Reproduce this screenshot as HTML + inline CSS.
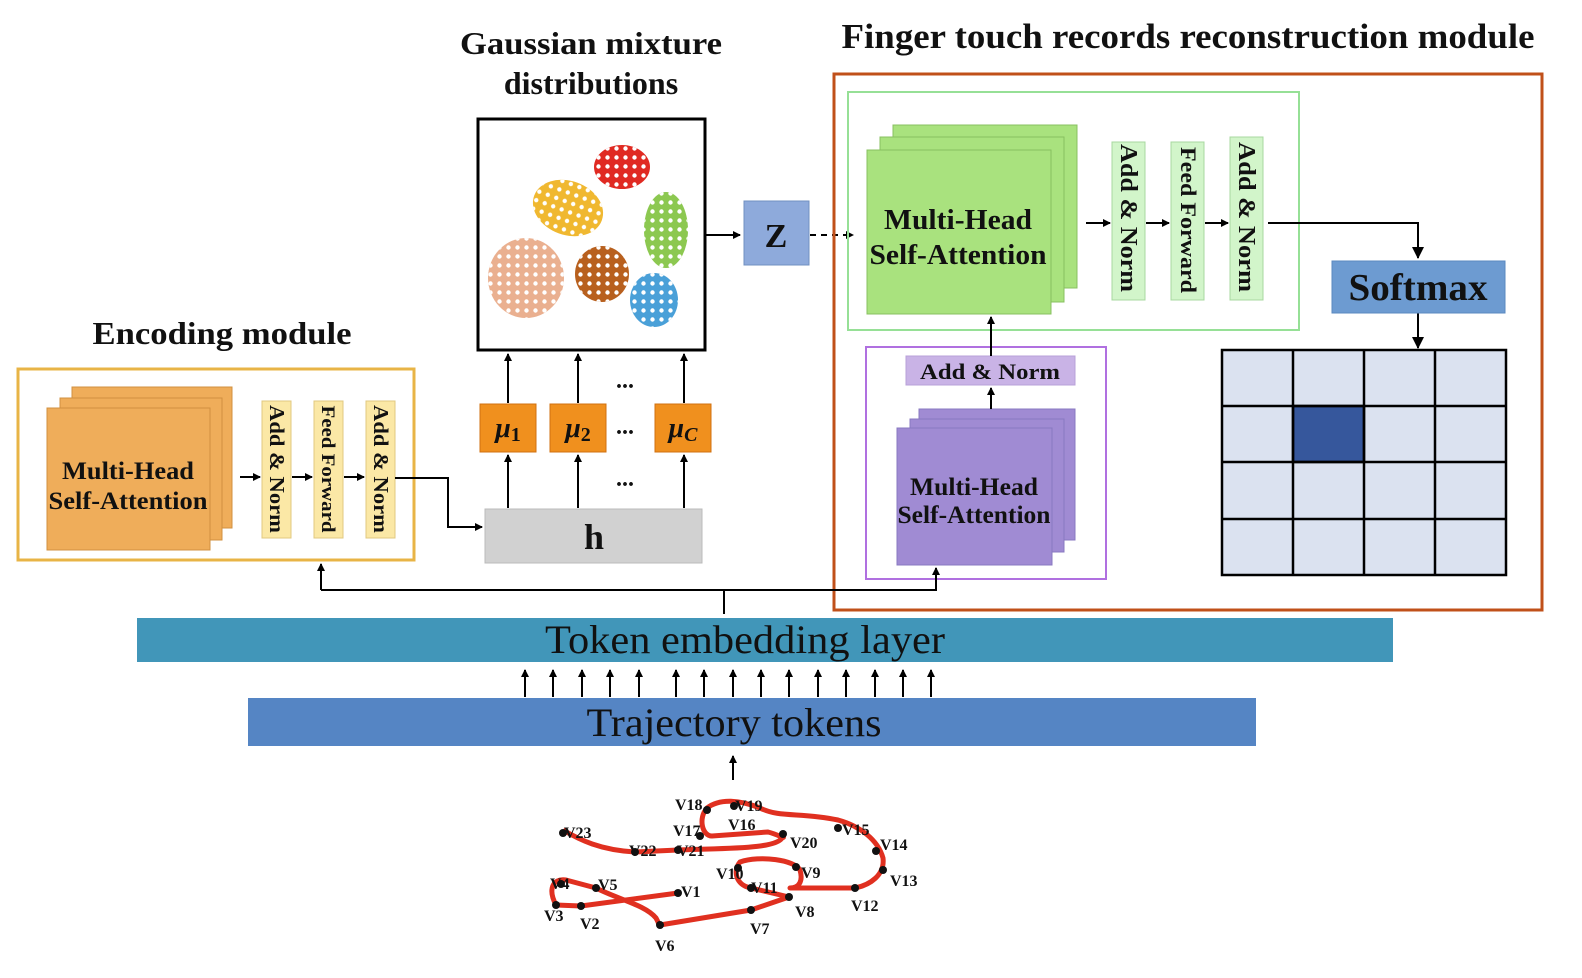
<!DOCTYPE html>
<html><head><meta charset="utf-8"><style>
html,body{margin:0;padding:0;background:#fff;overflow:hidden;}
svg{display:block;}
text{font-family:"Liberation Serif",serif;font-weight:bold;fill:#111;}
text.n{font-weight:normal;}
</style></head><body>
<svg width="1582" height="978" viewBox="0 0 1582 978" xmlns="http://www.w3.org/2000/svg">
<defs>
<marker id="a" markerWidth="8" markerHeight="8" refX="7" refY="4" orient="auto" markerUnits="userSpaceOnUse"><path d="M0,0 L8,4 L0,8 z" fill="#000"/></marker>
<marker id="b" markerWidth="12" markerHeight="12" refX="11" refY="6" orient="auto" markerUnits="userSpaceOnUse"><path d="M0,0 L12,6 L0,12 z" fill="#000"/></marker>
<pattern id="dots" width="9" height="9" patternUnits="userSpaceOnUse"><circle cx="4.5" cy="4.5" r="2.2" fill="#fff"/></pattern>
</defs>
<rect width="1582" height="978" fill="#fff"/>

<text x="591" y="54" font-size="32" text-anchor="middle" textLength="262" lengthAdjust="spacingAndGlyphs">Gaussian mixture</text>
<text x="591" y="94" font-size="32" text-anchor="middle">distributions</text>
<text x="1188" y="48" font-size="35" text-anchor="middle" textLength="693" lengthAdjust="spacingAndGlyphs">Finger touch records reconstruction module</text>
<text x="222" y="344" font-size="32" text-anchor="middle" textLength="259" lengthAdjust="spacingAndGlyphs">Encoding module</text>

<rect x="18" y="369" width="396" height="191" fill="none" stroke="#e8b446" stroke-width="3"/>
<rect x="72" y="387" width="160" height="141" fill="#efad5a" stroke="#d09040"/>
<rect x="60" y="398" width="162" height="142" fill="#efad5a" stroke="#d09040"/>
<rect x="47" y="408" width="163" height="142" fill="#efad5a" stroke="#d09040"/>
<text x="128" y="479" font-size="25" text-anchor="middle" textLength="132" lengthAdjust="spacingAndGlyphs">Multi-Head</text>
<text x="128" y="509" font-size="25" text-anchor="middle" textLength="159" lengthAdjust="spacingAndGlyphs">Self-Attention</text>
<rect x="262" y="401" width="29" height="137" fill="#fbe8a6" stroke="#e0c880"/>
<rect x="314" y="401" width="29" height="137" fill="#fbe8a6" stroke="#e0c880"/>
<rect x="366" y="401" width="29" height="137" fill="#fbe8a6" stroke="#e0c880"/>
<text transform="translate(270,469) rotate(90)" font-size="21" text-anchor="middle" textLength="128" lengthAdjust="spacingAndGlyphs">Add &amp; Norm</text>
<text transform="translate(322,469) rotate(90)" font-size="19" text-anchor="middle" textLength="127" lengthAdjust="spacingAndGlyphs">Feed Forward</text>
<text transform="translate(374,469) rotate(90)" font-size="21" text-anchor="middle" textLength="128" lengthAdjust="spacingAndGlyphs">Add &amp; Norm</text>
<g stroke="#000" stroke-width="2" fill="none">
<line x1="240" y1="477" x2="260" y2="477" marker-end="url(#a)"/>
<line x1="292" y1="477" x2="312" y2="477" marker-end="url(#a)"/>
<line x1="344" y1="477" x2="364" y2="477" marker-end="url(#a)"/>
<polyline points="395,478 448,478 448,527 482,527" marker-end="url(#a)"/>
</g>

<rect x="485" y="509" width="217" height="54" fill="#d1d1d1" stroke="#bbb"/>
<text x="594" y="549" font-size="36" text-anchor="middle">h</text>
<rect x="480" y="404" width="56" height="48" fill="#f0901e" stroke="#d07010"/>
<rect x="550" y="404" width="56" height="48" fill="#f0901e" stroke="#d07010"/>
<rect x="655" y="404" width="56" height="48" fill="#f0901e" stroke="#d07010"/>
<text x="508" y="437" font-size="28" text-anchor="middle" font-style="italic">μ<tspan font-size="20" font-style="normal" dy="4">1</tspan></text>
<text x="578" y="437" font-size="28" text-anchor="middle" font-style="italic">μ<tspan font-size="20" font-style="normal" dy="4">2</tspan></text>
<text x="683" y="437" font-size="28" text-anchor="middle" font-style="italic">μ<tspan font-size="20" dy="4">C</tspan></text>
<text x="625" y="388" font-size="24" text-anchor="middle">...</text>
<text x="625" y="434" font-size="24" text-anchor="middle">...</text>
<text x="625" y="486" font-size="24" text-anchor="middle">...</text>
<g stroke="#000" stroke-width="2">
<line x1="508" y1="508" x2="508" y2="455" marker-end="url(#a)"/>
<line x1="578" y1="508" x2="578" y2="455" marker-end="url(#a)"/>
<line x1="684" y1="508" x2="684" y2="455" marker-end="url(#a)"/>
<line x1="508" y1="403" x2="508" y2="354" marker-end="url(#a)"/>
<line x1="578" y1="403" x2="578" y2="354" marker-end="url(#a)"/>
<line x1="684" y1="403" x2="684" y2="354" marker-end="url(#a)"/>
</g>

<rect x="478" y="119" width="227" height="231" fill="#fff" stroke="#000" stroke-width="3"/>
<g>
<ellipse cx="622" cy="167" rx="28" ry="22" fill="#e02a22"/>
<ellipse cx="568" cy="208" rx="36" ry="27" fill="#f0b830" transform="rotate(20 568 208)"/>
<ellipse cx="666" cy="230" rx="22" ry="38" fill="#8cc850"/>
<ellipse cx="526" cy="278" rx="38" ry="40" fill="#eab090"/>
<ellipse cx="602" cy="274" rx="27" ry="28" fill="#b8601e"/>
<ellipse cx="654" cy="300" rx="24" ry="27" fill="#4aa0d8"/>
<ellipse cx="622" cy="167" rx="28" ry="22" fill="url(#dots)"/>
<ellipse cx="568" cy="208" rx="36" ry="27" fill="url(#dots)" transform="rotate(20 568 208)"/>
<ellipse cx="666" cy="230" rx="22" ry="38" fill="url(#dots)"/>
<ellipse cx="526" cy="278" rx="38" ry="40" fill="url(#dots)"/>
<ellipse cx="602" cy="274" rx="27" ry="28" fill="url(#dots)"/>
<ellipse cx="654" cy="300" rx="24" ry="27" fill="url(#dots)"/>
</g>
<line x1="705" y1="235" x2="740" y2="235" stroke="#000" stroke-width="2" marker-end="url(#a)"/>
<rect x="744" y="201" width="65" height="64" fill="#8eaadb" stroke="#7090c0"/>
<text x="776" y="247" font-size="34" text-anchor="middle">Z</text>
<line x1="810" y1="235" x2="853" y2="235" stroke="#000" stroke-width="2" stroke-dasharray="6,5" marker-end="url(#a)"/>

<rect x="834" y="74" width="708" height="536" fill="none" stroke="#c0501a" stroke-width="3"/>
<rect x="848" y="92" width="451" height="238" fill="none" stroke="#96e096" stroke-width="2"/>
<rect x="893" y="125" width="184" height="163" fill="#a9e27e" stroke="#88c060"/>
<rect x="880" y="137" width="184" height="165" fill="#a9e27e" stroke="#88c060"/>
<rect x="867" y="150" width="184" height="164" fill="#a9e27e" stroke="#88c060"/>
<text x="958" y="229" font-size="29" text-anchor="middle" textLength="148" lengthAdjust="spacingAndGlyphs">Multi-Head</text>
<text x="958" y="264" font-size="29" text-anchor="middle" textLength="177" lengthAdjust="spacingAndGlyphs">Self-Attention</text>
<rect x="1112" y="142" width="33" height="158" fill="#d2f5ca" stroke="#a8d8a0"/>
<rect x="1171" y="142" width="33" height="158" fill="#d2f5ca" stroke="#a8d8a0"/>
<rect x="1230" y="137" width="33" height="163" fill="#d2f5ca" stroke="#a8d8a0"/>
<text transform="translate(1121,218) rotate(90)" font-size="24" text-anchor="middle" textLength="148" lengthAdjust="spacingAndGlyphs">Add &amp; Norm</text>
<text transform="translate(1181,220) rotate(90)" font-size="22" text-anchor="middle" textLength="146" lengthAdjust="spacingAndGlyphs">Feed Forward</text>
<text transform="translate(1239,217) rotate(90)" font-size="24" text-anchor="middle" textLength="150" lengthAdjust="spacingAndGlyphs">Add &amp; Norm</text>
<g stroke="#000" stroke-width="2" fill="none">
<line x1="1086" y1="223" x2="1110" y2="223" marker-end="url(#a)"/>
<line x1="1146" y1="223" x2="1169" y2="223" marker-end="url(#a)"/>
<line x1="1205" y1="223" x2="1228" y2="223" marker-end="url(#a)"/>
<polyline points="1268,223 1418,223 1418,258" marker-end="url(#b)"/>
<line x1="1418" y1="313" x2="1418" y2="348" marker-end="url(#b)"/>
</g>
<rect x="1332" y="261" width="173" height="52" fill="#6d9bd1" stroke="#5a88c0"/>
<text x="1418" y="300" font-size="38" text-anchor="middle" textLength="139" lengthAdjust="spacingAndGlyphs">Softmax</text>
<g stroke="#000" stroke-width="2.5">
<rect x="1222" y="350" width="284" height="225" fill="#dbe2f0"/>
<rect x="1293" y="406" width="71" height="56" fill="#36579c"/>
<line x1="1293" y1="350" x2="1293" y2="575"/><line x1="1364" y1="350" x2="1364" y2="575"/><line x1="1435" y1="350" x2="1435" y2="575"/>
<line x1="1222" y1="406" x2="1506" y2="406"/><line x1="1222" y1="462" x2="1506" y2="462"/><line x1="1222" y1="519" x2="1506" y2="519"/>
</g>

<rect x="866" y="347" width="240" height="232" fill="none" stroke="#b070e0" stroke-width="2"/>
<rect x="906" y="356" width="169" height="29" fill="#c9b3e6" stroke="#b8a0d8"/>
<text x="990" y="379" font-size="22" text-anchor="middle" textLength="140" lengthAdjust="spacingAndGlyphs">Add &amp; Norm</text>
<rect x="919" y="409" width="156" height="131" fill="#a08bd3" stroke="#8878c0"/>
<rect x="910" y="419" width="154" height="133" fill="#a08bd3" stroke="#8878c0"/>
<rect x="897" y="428" width="155" height="137" fill="#a08bd3" stroke="#8878c0"/>
<text x="974" y="495" font-size="25" text-anchor="middle" textLength="128" lengthAdjust="spacingAndGlyphs">Multi-Head</text>
<text x="974" y="523" font-size="25" text-anchor="middle" textLength="153" lengthAdjust="spacingAndGlyphs">Self-Attention</text>
<g stroke="#000" stroke-width="2" fill="none">
<line x1="991" y1="409" x2="991" y2="388" marker-end="url(#a)"/>
<line x1="991" y1="356" x2="991" y2="317" marker-end="url(#a)"/>
<polyline points="724,614 724,590"/>
<polyline points="321,590 936,590 936,568" marker-end="url(#a)"/>
<polyline points="321,590 321,564" marker-end="url(#a)"/>
</g>

<rect x="137" y="618" width="1256" height="44" fill="#4196b9"/>
<text x="745" y="653" font-size="40" text-anchor="middle" class="n" textLength="400" lengthAdjust="spacingAndGlyphs">Token embedding layer</text>
<g stroke="#000" stroke-width="2">
<line x1="525" y1="697" x2="525" y2="670" marker-end="url(#a)"/><line x1="553" y1="697" x2="553" y2="670" marker-end="url(#a)"/>
<line x1="582" y1="697" x2="582" y2="670" marker-end="url(#a)"/><line x1="610" y1="697" x2="610" y2="670" marker-end="url(#a)"/>
<line x1="639" y1="697" x2="639" y2="670" marker-end="url(#a)"/><line x1="676" y1="697" x2="676" y2="670" marker-end="url(#a)"/>
<line x1="704" y1="697" x2="704" y2="670" marker-end="url(#a)"/><line x1="733" y1="697" x2="733" y2="670" marker-end="url(#a)"/>
<line x1="761" y1="697" x2="761" y2="670" marker-end="url(#a)"/><line x1="789" y1="697" x2="789" y2="670" marker-end="url(#a)"/>
<line x1="818" y1="697" x2="818" y2="670" marker-end="url(#a)"/><line x1="846" y1="697" x2="846" y2="670" marker-end="url(#a)"/>
<line x1="875" y1="697" x2="875" y2="670" marker-end="url(#a)"/><line x1="903" y1="697" x2="903" y2="670" marker-end="url(#a)"/>
<line x1="931" y1="697" x2="931" y2="670" marker-end="url(#a)"/>
<line x1="733" y1="780" x2="733" y2="756" marker-end="url(#a)"/>
</g>
<rect x="248" y="698" width="1008" height="48" fill="#5585c4"/>
<text x="734" y="736" font-size="40" text-anchor="middle" class="n" textLength="295" lengthAdjust="spacingAndGlyphs">Trajectory tokens</text>

<path d="M678,893 L581,906 L556,905 C548,890 552,878 566,880 L596,888 C620,900 645,905 656,918 C660,925 658,925 660,925 L751,910 L789,897 L751,888 C735,885 733,870 740,862 C760,855 795,860 800,870 C803,880 800,888 790,888 L855,888 C870,885 885,875 883,858 C878,840 860,826 838,820 C800,812 780,818 760,808 C740,800 720,798 707,808 C698,818 702,836 712,836 L768,832 C780,835 785,840 783,836 C780,850 720,848 678,850 L635,852 C600,850 580,840 563,830" fill="none" stroke="#e03020" stroke-width="5" stroke-linejoin="round"/>
<g fill="#111">
<circle cx="678" cy="893" r="4"/><circle cx="581" cy="906" r="4"/><circle cx="556" cy="905" r="4"/><circle cx="561" cy="884" r="4"/><circle cx="596" cy="888" r="4"/><circle cx="660" cy="925" r="4"/><circle cx="751" cy="910" r="4"/><circle cx="789" cy="897" r="4"/><circle cx="751" cy="888" r="4"/><circle cx="738" cy="868" r="4"/><circle cx="796" cy="867" r="4"/><circle cx="855" cy="888" r="4"/><circle cx="883" cy="870" r="4"/><circle cx="876" cy="851" r="4"/><circle cx="838" cy="828" r="4"/><circle cx="783" cy="834" r="4"/><circle cx="734" cy="806" r="4"/><circle cx="707" cy="810" r="4"/><circle cx="700" cy="836" r="4"/><circle cx="678" cy="850" r="4"/><circle cx="635" cy="852" r="4"/><circle cx="563" cy="833" r="4"/>
</g>
<g font-size="16">
<text x="681" y="897">V1</text><text x="580" y="929">V2</text><text x="544" y="921">V3</text><text x="550" y="889">V4</text><text x="598" y="890">V5</text><text x="655" y="951">V6</text><text x="750" y="934">V7</text><text x="795" y="917">V8</text><text x="801" y="878">V9</text><text x="716" y="879">V10</text><text x="751" y="893">V11</text><text x="851" y="911">V12</text><text x="890" y="886">V13</text><text x="880" y="850">V14</text><text x="842" y="835">V15</text><text x="728" y="830">V16</text><text x="673" y="836">V17</text><text x="675" y="810">V18</text><text x="735" y="811">V19</text><text x="790" y="848">V20</text><text x="677" y="856">V21</text><text x="629" y="856">V22</text><text x="564" y="838">V23</text>
</g>
</svg>
</body></html>
